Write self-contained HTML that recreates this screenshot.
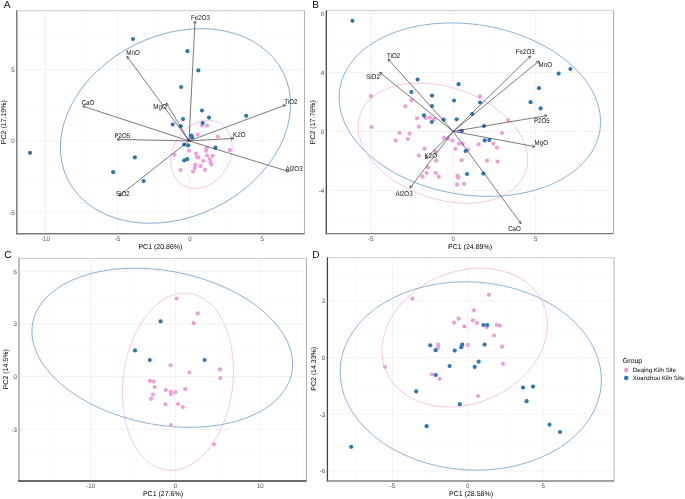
<!DOCTYPE html>
<html><head><meta charset="utf-8"><style>html,body{margin:0;padding:0;background:#fff;width:685px;height:499px;overflow:hidden;}body{position:relative;font-family:"Liberation Sans",sans-serif;}</style></head><body>
<svg width="685" height="499" viewBox="0 0 685 499" style="position:absolute;left:0;top:0;will-change:transform" font-family='"Liberation Sans", sans-serif' text-rendering="geometricPrecision">
<defs><clipPath id="cA"><rect x="16.8" y="10.7" width="287.7" height="223.1"/></clipPath><clipPath id="cB"><rect x="326.3" y="10.6" width="287.2" height="223"/></clipPath><clipPath id="cC"><rect x="19" y="258.4" width="287.5" height="222.6"/></clipPath><clipPath id="cD"><rect x="327.4" y="257.7" width="286.7" height="223.3"/></clipPath></defs>
<rect width="685" height="499" fill="#fff"/>
<line x1="81.6" y1="10.7" x2="81.6" y2="233.8" stroke="#f6f6f6" stroke-width="0.5"/>
<line x1="153.8" y1="10.7" x2="153.8" y2="233.8" stroke="#f6f6f6" stroke-width="0.5"/>
<line x1="226" y1="10.7" x2="226" y2="233.8" stroke="#f6f6f6" stroke-width="0.5"/>
<line x1="298.2" y1="10.7" x2="298.2" y2="233.8" stroke="#f6f6f6" stroke-width="0.5"/>
<line x1="16.8" y1="176.6" x2="304.5" y2="176.6" stroke="#f6f6f6" stroke-width="0.5"/>
<line x1="16.8" y1="105.2" x2="304.5" y2="105.2" stroke="#f6f6f6" stroke-width="0.5"/>
<line x1="16.8" y1="33.8" x2="304.5" y2="33.8" stroke="#f6f6f6" stroke-width="0.5"/>
<line x1="45.5" y1="10.7" x2="45.5" y2="233.8" stroke="#ebebeb" stroke-width="0.6"/>
<line x1="117.7" y1="10.7" x2="117.7" y2="233.8" stroke="#ebebeb" stroke-width="0.6"/>
<line x1="189.9" y1="10.7" x2="189.9" y2="233.8" stroke="#ebebeb" stroke-width="0.6"/>
<line x1="262.1" y1="10.7" x2="262.1" y2="233.8" stroke="#ebebeb" stroke-width="0.6"/>
<line x1="16.8" y1="212.3" x2="304.5" y2="212.3" stroke="#ebebeb" stroke-width="0.6"/>
<line x1="16.8" y1="140.9" x2="304.5" y2="140.9" stroke="#ebebeb" stroke-width="0.6"/>
<line x1="16.8" y1="69.5" x2="304.5" y2="69.5" stroke="#ebebeb" stroke-width="0.6"/>
<g clip-path="url(#cA)"><ellipse cx="175.47" cy="125.96" rx="90.79" ry="120.3" transform="rotate(63.7 175.47 125.96)" fill="none" stroke="#3A7BBB" stroke-width="0.55"/><ellipse cx="201.51" cy="154.3" rx="28.57" ry="36.14" transform="rotate(-148.37 201.51 154.3)" fill="none" stroke="#F0A2DC" stroke-width="0.55"/>
<circle cx="202.1" cy="125.4" r="2.1" fill="#EE9FDA"/>
<circle cx="207" cy="125.7" r="2.1" fill="#EE9FDA"/>
<circle cx="197.5" cy="134.6" r="2.1" fill="#EE9FDA"/>
<circle cx="217.8" cy="136.5" r="2.1" fill="#EE9FDA"/>
<circle cx="229.7" cy="150.2" r="2.1" fill="#EE9FDA"/>
<circle cx="189" cy="150.6" r="2.1" fill="#EE9FDA"/>
<circle cx="206.6" cy="148.2" r="2.1" fill="#EE9FDA"/>
<circle cx="206" cy="151" r="2.1" fill="#EE9FDA"/>
<circle cx="174.6" cy="154.8" r="2.1" fill="#EE9FDA"/>
<circle cx="196" cy="153.5" r="2.1" fill="#EE9FDA"/>
<circle cx="196.8" cy="156.8" r="2.1" fill="#EE9FDA"/>
<circle cx="198.5" cy="157.5" r="2.1" fill="#EE9FDA"/>
<circle cx="207" cy="155.5" r="2.1" fill="#EE9FDA"/>
<circle cx="212.7" cy="155.8" r="2.1" fill="#EE9FDA"/>
<circle cx="209.7" cy="159" r="2.1" fill="#EE9FDA"/>
<circle cx="203.4" cy="161" r="2.1" fill="#EE9FDA"/>
<circle cx="210.6" cy="162.2" r="2.1" fill="#EE9FDA"/>
<circle cx="211.2" cy="164.6" r="2.1" fill="#EE9FDA"/>
<circle cx="195.3" cy="164.6" r="2.1" fill="#EE9FDA"/>
<circle cx="200.5" cy="165.9" r="2.1" fill="#EE9FDA"/>
<circle cx="194.8" cy="168" r="2.1" fill="#EE9FDA"/>
<circle cx="180.6" cy="170.1" r="2.1" fill="#EE9FDA"/>
<circle cx="205" cy="169.8" r="2.1" fill="#EE9FDA"/>
<circle cx="193" cy="171.6" r="2.1" fill="#EE9FDA"/>
<circle cx="189.2" cy="139.6" r="2.1" fill="#EE9FDA"/>
<circle cx="133" cy="39" r="2.1" fill="#3276B3"/>
<circle cx="187.4" cy="51.2" r="2.1" fill="#3276B3"/>
<circle cx="198.4" cy="70.4" r="2.1" fill="#3276B3"/>
<circle cx="181.2" cy="87" r="2.1" fill="#3276B3"/>
<circle cx="202" cy="110.5" r="2.1" fill="#3276B3"/>
<circle cx="209" cy="117.6" r="2.1" fill="#3276B3"/>
<circle cx="246.2" cy="115.8" r="2.1" fill="#3276B3"/>
<circle cx="183" cy="119.1" r="2.1" fill="#3276B3"/>
<circle cx="172.7" cy="124.5" r="2.1" fill="#3276B3"/>
<circle cx="180.8" cy="126.1" r="2.1" fill="#3276B3"/>
<circle cx="202.7" cy="123" r="2.1" fill="#3276B3"/>
<circle cx="191.4" cy="135.5" r="2.1" fill="#3276B3"/>
<circle cx="192.2" cy="137.4" r="2.1" fill="#3276B3"/>
<circle cx="184.2" cy="144.5" r="2.1" fill="#3276B3"/>
<circle cx="188.2" cy="145.4" r="2.1" fill="#3276B3"/>
<circle cx="215.5" cy="147.7" r="2.1" fill="#3276B3"/>
<circle cx="184.2" cy="160.4" r="2.1" fill="#3276B3"/>
<circle cx="187.1" cy="159.2" r="2.1" fill="#3276B3"/>
<circle cx="30" cy="152.8" r="2.1" fill="#3276B3"/>
<circle cx="134.8" cy="157.4" r="2.1" fill="#3276B3"/>
<circle cx="113.2" cy="172.2" r="2.1" fill="#3276B3"/>
<circle cx="143.6" cy="181.1" r="2.1" fill="#3276B3"/>
<line x1="189" y1="140.9" x2="195" y2="21" stroke="#222" stroke-width="0.6"/>
<polyline points="193.46,23.58 195,21 196.27,23.72" fill="none" stroke="#222" stroke-width="0.6"/>
<text transform="translate(200.5 19.5) scale(0.885 1)" font-size="7.0" text-anchor="middle" fill="#111">Fe2O3</text>
<line x1="189" y1="140.9" x2="127" y2="56.4" stroke="#222" stroke-width="0.6"/>
<polyline points="127.43,59.37 127,56.4 129.7,57.7" fill="none" stroke="#222" stroke-width="0.6"/>
<text transform="translate(133 55.1) scale(0.885 1)" font-size="7.0" text-anchor="middle" fill="#111">MnO</text>
<line x1="189" y1="140.9" x2="82.8" y2="106.2" stroke="#222" stroke-width="0.6"/>
<polyline points="84.88,108.36 82.8,106.2 85.76,105.68" fill="none" stroke="#222" stroke-width="0.6"/>
<text transform="translate(88 104.5) scale(0.885 1)" font-size="7.0" text-anchor="middle" fill="#111">CaO</text>
<line x1="189" y1="140.9" x2="166.2" y2="103" stroke="#222" stroke-width="0.6"/>
<polyline points="166.36,106 166.2,103 168.77,104.54" fill="none" stroke="#222" stroke-width="0.6"/>
<text transform="translate(160 109.1) scale(0.885 1)" font-size="7.0" text-anchor="middle" fill="#111">MgO</text>
<line x1="189" y1="140.9" x2="117" y2="139.4" stroke="#222" stroke-width="0.6"/>
<polyline points="119.62,140.86 117,139.4 119.68,138.05" fill="none" stroke="#222" stroke-width="0.6"/>
<text transform="translate(122.4 137.5) scale(0.885 1)" font-size="7.0" text-anchor="middle" fill="#111">P2O5</text>
<line x1="189" y1="140.9" x2="119" y2="196" stroke="#222" stroke-width="0.6"/>
<polyline points="121.95,195.47 119,196 120.21,193.25" fill="none" stroke="#222" stroke-width="0.6"/>
<text transform="translate(122.8 196) scale(0.885 1)" font-size="7.0" text-anchor="middle" fill="#111">SiO2</text>
<line x1="189" y1="140.9" x2="285.6" y2="105" stroke="#222" stroke-width="0.6"/>
<polyline points="282.63,104.6 285.6,105 283.61,107.24" fill="none" stroke="#222" stroke-width="0.6"/>
<text transform="translate(290.8 103.9) scale(0.885 1)" font-size="7.0" text-anchor="middle" fill="#111">TiO2</text>
<line x1="189" y1="140.9" x2="233.6" y2="138.4" stroke="#222" stroke-width="0.6"/>
<polyline points="230.88,137.14 233.6,138.4 231.03,139.95" fill="none" stroke="#222" stroke-width="0.6"/>
<text transform="translate(239.3 136.9) scale(0.885 1)" font-size="7.0" text-anchor="middle" fill="#111">K2O</text>
<line x1="189" y1="140.9" x2="289" y2="171.6" stroke="#222" stroke-width="0.6"/>
<polyline points="286.88,169.48 289,171.6 286.05,172.17" fill="none" stroke="#222" stroke-width="0.6"/>
<text transform="translate(294 170.9) scale(0.885 1)" font-size="7.0" text-anchor="middle" fill="#111">Al2O3</text>
</g>
<line x1="16.8" y1="10.7" x2="304.5" y2="10.7" stroke="#c4c4c4" stroke-width="0.9"/>
<line x1="304.5" y1="10.7" x2="304.5" y2="233.8" stroke="#a8a8a8" stroke-width="0.9"/>
<line x1="16.8" y1="10.3" x2="16.8" y2="234.4" stroke="#6a6a6a" stroke-width="1.3"/>
<line x1="16.2" y1="233.8" x2="304.5" y2="233.8" stroke="#7a7a7a" stroke-width="1.4"/>
<text transform="translate(45.5 240.8) scale(0.93 1)" font-size="6.6" text-anchor="middle" fill="#4d4d4d">-10</text>
<text transform="translate(117.7 240.8) scale(0.93 1)" font-size="6.6" text-anchor="middle" fill="#4d4d4d">-5</text>
<text transform="translate(189.9 240.8) scale(0.93 1)" font-size="6.6" text-anchor="middle" fill="#4d4d4d">0</text>
<text transform="translate(262.1 240.8) scale(0.93 1)" font-size="6.6" text-anchor="middle" fill="#4d4d4d">5</text>
<text transform="translate(14.6 214.6) scale(0.93 1)" font-size="6.6" text-anchor="end" fill="#4d4d4d">-5</text>
<text transform="translate(14.6 143.2) scale(0.93 1)" font-size="6.6" text-anchor="end" fill="#4d4d4d">0</text>
<text transform="translate(14.6 71.8) scale(0.93 1)" font-size="6.6" text-anchor="end" fill="#4d4d4d">5</text>
<line x1="329.45" y1="10.6" x2="329.45" y2="233.6" stroke="#f6f6f6" stroke-width="0.5"/>
<line x1="411.95" y1="10.6" x2="411.95" y2="233.6" stroke="#f6f6f6" stroke-width="0.5"/>
<line x1="494.45" y1="10.6" x2="494.45" y2="233.6" stroke="#f6f6f6" stroke-width="0.5"/>
<line x1="576.95" y1="10.6" x2="576.95" y2="233.6" stroke="#f6f6f6" stroke-width="0.5"/>
<line x1="326.3" y1="220" x2="613.5" y2="220" stroke="#f6f6f6" stroke-width="0.5"/>
<line x1="326.3" y1="161" x2="613.5" y2="161" stroke="#f6f6f6" stroke-width="0.5"/>
<line x1="326.3" y1="102" x2="613.5" y2="102" stroke="#f6f6f6" stroke-width="0.5"/>
<line x1="326.3" y1="43" x2="613.5" y2="43" stroke="#f6f6f6" stroke-width="0.5"/>
<line x1="370.7" y1="10.6" x2="370.7" y2="233.6" stroke="#ebebeb" stroke-width="0.6"/>
<line x1="453.2" y1="10.6" x2="453.2" y2="233.6" stroke="#ebebeb" stroke-width="0.6"/>
<line x1="535.7" y1="10.6" x2="535.7" y2="233.6" stroke="#ebebeb" stroke-width="0.6"/>
<line x1="326.3" y1="190.5" x2="613.5" y2="190.5" stroke="#ebebeb" stroke-width="0.6"/>
<line x1="326.3" y1="131.5" x2="613.5" y2="131.5" stroke="#ebebeb" stroke-width="0.6"/>
<line x1="326.3" y1="72.5" x2="613.5" y2="72.5" stroke="#ebebeb" stroke-width="0.6"/>
<line x1="326.3" y1="13.5" x2="613.5" y2="13.5" stroke="#ebebeb" stroke-width="0.6"/>
<g clip-path="url(#cB)"><ellipse cx="469.83" cy="109.64" rx="85.28" ry="131.77" transform="rotate(99.19 469.83 109.64)" fill="none" stroke="#3A7BBB" stroke-width="0.55"/><ellipse cx="442.94" cy="143.16" rx="87.68" ry="55.84" transform="rotate(-160.83 442.94 143.16)" fill="none" stroke="#F0A2DC" stroke-width="0.55"/>
<circle cx="371" cy="96.2" r="2.1" fill="#EE9FDA"/>
<circle cx="371.4" cy="127" r="2.1" fill="#EE9FDA"/>
<circle cx="411.4" cy="100.4" r="2.1" fill="#EE9FDA"/>
<circle cx="405.4" cy="106.3" r="2.1" fill="#EE9FDA"/>
<circle cx="480" cy="96.3" r="2.1" fill="#EE9FDA"/>
<circle cx="417" cy="118.3" r="2.1" fill="#EE9FDA"/>
<circle cx="425.5" cy="118" r="2.1" fill="#EE9FDA"/>
<circle cx="429.8" cy="117.5" r="2.1" fill="#EE9FDA"/>
<circle cx="434.3" cy="119.2" r="2.1" fill="#EE9FDA"/>
<circle cx="418.8" cy="126.7" r="2.1" fill="#EE9FDA"/>
<circle cx="399.5" cy="132.8" r="2.1" fill="#EE9FDA"/>
<circle cx="409.5" cy="133.7" r="2.1" fill="#EE9FDA"/>
<circle cx="395.6" cy="140.6" r="2.1" fill="#EE9FDA"/>
<circle cx="407.8" cy="139" r="2.1" fill="#EE9FDA"/>
<circle cx="444" cy="137.7" r="2.1" fill="#EE9FDA"/>
<circle cx="448" cy="138.7" r="2.1" fill="#EE9FDA"/>
<circle cx="452.5" cy="140.5" r="2.1" fill="#EE9FDA"/>
<circle cx="458.9" cy="143.6" r="2.1" fill="#EE9FDA"/>
<circle cx="462.7" cy="143.6" r="2.1" fill="#EE9FDA"/>
<circle cx="459" cy="131" r="2.1" fill="#EE9FDA"/>
<circle cx="455.5" cy="148.8" r="2.1" fill="#EE9FDA"/>
<circle cx="424.7" cy="148.7" r="2.1" fill="#EE9FDA"/>
<circle cx="418.8" cy="155.6" r="2.1" fill="#EE9FDA"/>
<circle cx="435.3" cy="151.4" r="2.1" fill="#EE9FDA"/>
<circle cx="436.1" cy="160.7" r="2.1" fill="#EE9FDA"/>
<circle cx="428" cy="167.4" r="2.1" fill="#EE9FDA"/>
<circle cx="426.6" cy="172.9" r="2.1" fill="#EE9FDA"/>
<circle cx="422.4" cy="176.7" r="2.1" fill="#EE9FDA"/>
<circle cx="435.7" cy="173" r="2.1" fill="#EE9FDA"/>
<circle cx="438.8" cy="176.7" r="2.1" fill="#EE9FDA"/>
<circle cx="457.7" cy="175.7" r="2.1" fill="#EE9FDA"/>
<circle cx="458.2" cy="177.7" r="2.1" fill="#EE9FDA"/>
<circle cx="457" cy="184.7" r="2.1" fill="#EE9FDA"/>
<circle cx="461.7" cy="160.2" r="2.1" fill="#EE9FDA"/>
<circle cx="464" cy="183.9" r="2.1" fill="#EE9FDA"/>
<circle cx="468" cy="149.5" r="2.1" fill="#EE9FDA"/>
<circle cx="478.5" cy="144.4" r="2.1" fill="#EE9FDA"/>
<circle cx="493.4" cy="143.6" r="2.1" fill="#EE9FDA"/>
<circle cx="497" cy="147.6" r="2.1" fill="#EE9FDA"/>
<circle cx="487" cy="160.6" r="2.1" fill="#EE9FDA"/>
<circle cx="497.6" cy="161.6" r="2.1" fill="#EE9FDA"/>
<circle cx="502" cy="133" r="2.1" fill="#EE9FDA"/>
<circle cx="508" cy="120" r="2.1" fill="#EE9FDA"/>
<circle cx="352.4" cy="20.8" r="2.1" fill="#3276B3"/>
<circle cx="417.6" cy="79.6" r="2.1" fill="#3276B3"/>
<circle cx="411.4" cy="92" r="2.1" fill="#3276B3"/>
<circle cx="432" cy="95.6" r="2.1" fill="#3276B3"/>
<circle cx="458.6" cy="84.2" r="2.1" fill="#3276B3"/>
<circle cx="454" cy="100.5" r="2.1" fill="#3276B3"/>
<circle cx="432" cy="106" r="2.1" fill="#3276B3"/>
<circle cx="480" cy="102.5" r="2.1" fill="#3276B3"/>
<circle cx="530.6" cy="102.2" r="2.1" fill="#3276B3"/>
<circle cx="539" cy="88.2" r="2.1" fill="#3276B3"/>
<circle cx="558.6" cy="73.6" r="2.1" fill="#3276B3"/>
<circle cx="570.4" cy="69" r="2.1" fill="#3276B3"/>
<circle cx="540.6" cy="108.4" r="2.1" fill="#3276B3"/>
<circle cx="424" cy="115.4" r="2.1" fill="#3276B3"/>
<circle cx="431.8" cy="122" r="2.1" fill="#3276B3"/>
<circle cx="443.7" cy="119.7" r="2.1" fill="#3276B3"/>
<circle cx="456.7" cy="119.3" r="2.1" fill="#3276B3"/>
<circle cx="472.4" cy="114" r="2.1" fill="#3276B3"/>
<circle cx="484" cy="126" r="2.1" fill="#3276B3"/>
<circle cx="461.8" cy="130.9" r="2.1" fill="#3276B3"/>
<circle cx="484.7" cy="140.4" r="2.1" fill="#3276B3"/>
<circle cx="489.3" cy="140" r="2.1" fill="#3276B3"/>
<circle cx="465.6" cy="151" r="2.1" fill="#3276B3"/>
<circle cx="467" cy="174" r="2.1" fill="#3276B3"/>
<circle cx="483.4" cy="173.6" r="2.1" fill="#3276B3"/>
<line x1="453.2" y1="131.4" x2="388" y2="59" stroke="#222" stroke-width="0.6"/>
<polyline points="388.73,61.91 388,59 390.82,60.03" fill="none" stroke="#222" stroke-width="0.6"/>
<text transform="translate(393.7 57.5) scale(0.885 1)" font-size="7.0" text-anchor="middle" fill="#111">TiO2</text>
<line x1="453.2" y1="131.4" x2="379.6" y2="72.4" stroke="#222" stroke-width="0.6"/>
<polyline points="380.79,75.16 379.6,72.4 382.55,72.96" fill="none" stroke="#222" stroke-width="0.6"/>
<text transform="translate(373 78.5) scale(0.885 1)" font-size="7.0" text-anchor="middle" fill="#111">SiO2</text>
<line x1="453.2" y1="131.4" x2="530.6" y2="56" stroke="#222" stroke-width="0.6"/>
<polyline points="527.72,56.84 530.6,56 529.69,58.86" fill="none" stroke="#222" stroke-width="0.6"/>
<text transform="translate(525.3 53.9) scale(0.885 1)" font-size="7.0" text-anchor="middle" fill="#111">Fe2O3</text>
<line x1="453.2" y1="131.4" x2="539" y2="61" stroke="#222" stroke-width="0.6"/>
<polyline points="536.06,61.59 539,61 537.85,63.77" fill="none" stroke="#222" stroke-width="0.6"/>
<text transform="translate(545.3 67.1) scale(0.885 1)" font-size="7.0" text-anchor="middle" fill="#111">MnO</text>
<line x1="453.2" y1="131.4" x2="547" y2="115.6" stroke="#222" stroke-width="0.6"/>
<polyline points="544.15,114.65 547,115.6 544.62,117.43" fill="none" stroke="#222" stroke-width="0.6"/>
<text transform="translate(541.8 122.9) scale(0.885 1)" font-size="7.0" text-anchor="middle" fill="#111">P2O5</text>
<line x1="453.2" y1="131.4" x2="535" y2="146.6" stroke="#222" stroke-width="0.6"/>
<polyline points="532.65,144.73 535,146.6 532.14,147.5" fill="none" stroke="#222" stroke-width="0.6"/>
<text transform="translate(541.3 145.1) scale(0.885 1)" font-size="7.0" text-anchor="middle" fill="#111">MgO</text>
<line x1="453.2" y1="131.4" x2="521" y2="223.6" stroke="#222" stroke-width="0.6"/>
<polyline points="520.57,220.63 521,223.6 518.3,222.3" fill="none" stroke="#222" stroke-width="0.6"/>
<text transform="translate(514.5 230.5) scale(0.885 1)" font-size="7.0" text-anchor="middle" fill="#111">CaO</text>
<line x1="453.2" y1="131.4" x2="425.5" y2="158.8" stroke="#222" stroke-width="0.6"/>
<polyline points="428.37,157.94 425.5,158.8 426.39,155.94" fill="none" stroke="#222" stroke-width="0.6"/>
<text transform="translate(430.8 158) scale(0.885 1)" font-size="7.0" text-anchor="middle" fill="#111">K2O</text>
<line x1="453.2" y1="131.4" x2="410" y2="188" stroke="#222" stroke-width="0.6"/>
<polyline points="412.73,186.75 410,188 410.49,185.04" fill="none" stroke="#222" stroke-width="0.6"/>
<text transform="translate(404 195.5) scale(0.885 1)" font-size="7.0" text-anchor="middle" fill="#111">Al2O3</text>
</g>
<line x1="326.3" y1="10.6" x2="613.5" y2="10.6" stroke="#c4c4c4" stroke-width="0.9"/>
<line x1="613.5" y1="10.6" x2="613.5" y2="233.6" stroke="#a8a8a8" stroke-width="0.9"/>
<line x1="326.3" y1="10.2" x2="326.3" y2="234.2" stroke="#444" stroke-width="1.3"/>
<line x1="325.7" y1="233.6" x2="613.5" y2="233.6" stroke="#777" stroke-width="1.4"/>
<text transform="translate(370.7 240.6) scale(0.93 1)" font-size="6.6" text-anchor="middle" fill="#4d4d4d">-5</text>
<text transform="translate(453.2 240.6) scale(0.93 1)" font-size="6.6" text-anchor="middle" fill="#4d4d4d">0</text>
<text transform="translate(535.7 240.6) scale(0.93 1)" font-size="6.6" text-anchor="middle" fill="#4d4d4d">5</text>
<text transform="translate(324.1 192.8) scale(0.93 1)" font-size="6.6" text-anchor="end" fill="#4d4d4d">-4</text>
<text transform="translate(324.1 133.8) scale(0.93 1)" font-size="6.6" text-anchor="end" fill="#4d4d4d">0</text>
<text transform="translate(324.1 74.8) scale(0.93 1)" font-size="6.6" text-anchor="end" fill="#4d4d4d">4</text>
<text transform="translate(324.1 15.8) scale(0.93 1)" font-size="6.6" text-anchor="end" fill="#4d4d4d">8</text>
<line x1="48.3" y1="258.4" x2="48.3" y2="481" stroke="#f6f6f6" stroke-width="0.5"/>
<line x1="133.1" y1="258.4" x2="133.1" y2="481" stroke="#f6f6f6" stroke-width="0.5"/>
<line x1="217.9" y1="258.4" x2="217.9" y2="481" stroke="#f6f6f6" stroke-width="0.5"/>
<line x1="302.7" y1="258.4" x2="302.7" y2="481" stroke="#f6f6f6" stroke-width="0.5"/>
<line x1="19" y1="455.58" x2="306.5" y2="455.58" stroke="#f6f6f6" stroke-width="0.5"/>
<line x1="19" y1="402.93" x2="306.5" y2="402.93" stroke="#f6f6f6" stroke-width="0.5"/>
<line x1="19" y1="350.28" x2="306.5" y2="350.28" stroke="#f6f6f6" stroke-width="0.5"/>
<line x1="19" y1="297.62" x2="306.5" y2="297.62" stroke="#f6f6f6" stroke-width="0.5"/>
<line x1="90.7" y1="258.4" x2="90.7" y2="481" stroke="#ebebeb" stroke-width="0.6"/>
<line x1="175.5" y1="258.4" x2="175.5" y2="481" stroke="#ebebeb" stroke-width="0.6"/>
<line x1="260.3" y1="258.4" x2="260.3" y2="481" stroke="#ebebeb" stroke-width="0.6"/>
<line x1="19" y1="429.25" x2="306.5" y2="429.25" stroke="#ebebeb" stroke-width="0.6"/>
<line x1="19" y1="376.6" x2="306.5" y2="376.6" stroke="#ebebeb" stroke-width="0.6"/>
<line x1="19" y1="323.95" x2="306.5" y2="323.95" stroke="#ebebeb" stroke-width="0.6"/>
<line x1="19" y1="271.3" x2="306.5" y2="271.3" stroke="#ebebeb" stroke-width="0.6"/>
<g clip-path="url(#cC)"><ellipse cx="162.26" cy="347.78" rx="132" ry="76.93" transform="rotate(-169.03 162.26 347.78)" fill="none" stroke="#3A7BBB" stroke-width="0.55"/><ellipse cx="177.9" cy="381.77" rx="89.13" ry="54.9" transform="rotate(-82.77 177.9 381.77)" fill="none" stroke="#F0A2DC" stroke-width="0.55"/>
<circle cx="176.6" cy="298.6" r="2.1" fill="#EE9FDA"/>
<circle cx="197.8" cy="313.4" r="2.1" fill="#EE9FDA"/>
<circle cx="193.6" cy="323.2" r="2.1" fill="#EE9FDA"/>
<circle cx="170.5" cy="365.3" r="2.1" fill="#EE9FDA"/>
<circle cx="189.5" cy="372.5" r="2.1" fill="#EE9FDA"/>
<circle cx="220" cy="369.4" r="2.1" fill="#EE9FDA"/>
<circle cx="220.4" cy="378.2" r="2.1" fill="#EE9FDA"/>
<circle cx="150" cy="380.8" r="2.1" fill="#EE9FDA"/>
<circle cx="153.8" cy="381.6" r="2.1" fill="#EE9FDA"/>
<circle cx="154.6" cy="387" r="2.1" fill="#EE9FDA"/>
<circle cx="165.7" cy="390" r="2.1" fill="#EE9FDA"/>
<circle cx="170.8" cy="391.8" r="2.1" fill="#EE9FDA"/>
<circle cx="170.8" cy="394" r="2.1" fill="#EE9FDA"/>
<circle cx="175.3" cy="392.2" r="2.1" fill="#EE9FDA"/>
<circle cx="185.3" cy="389.2" r="2.1" fill="#EE9FDA"/>
<circle cx="153" cy="394.7" r="2.1" fill="#EE9FDA"/>
<circle cx="151.1" cy="398.8" r="2.1" fill="#EE9FDA"/>
<circle cx="165.5" cy="404.3" r="2.1" fill="#EE9FDA"/>
<circle cx="178" cy="404" r="2.1" fill="#EE9FDA"/>
<circle cx="182.8" cy="407" r="2.1" fill="#EE9FDA"/>
<circle cx="171" cy="425" r="2.1" fill="#EE9FDA"/>
<circle cx="214" cy="444.3" r="2.1" fill="#EE9FDA"/>
<circle cx="135" cy="350.4" r="2.1" fill="#3276B3"/>
<circle cx="149.8" cy="360" r="2.1" fill="#3276B3"/>
<circle cx="160.6" cy="321.4" r="2.1" fill="#3276B3"/>
<circle cx="204.6" cy="360" r="2.1" fill="#3276B3"/>
</g>
<line x1="19" y1="258.4" x2="306.5" y2="258.4" stroke="#c4c4c4" stroke-width="0.9"/>
<line x1="306.5" y1="258.4" x2="306.5" y2="481" stroke="#a8a8a8" stroke-width="0.9"/>
<line x1="19" y1="258" x2="19" y2="481.6" stroke="#999" stroke-width="1.3"/>
<line x1="18.4" y1="481" x2="306.5" y2="481" stroke="#383838" stroke-width="1.4"/>
<text transform="translate(90.7 488) scale(0.93 1)" font-size="6.6" text-anchor="middle" fill="#4d4d4d">-10</text>
<text transform="translate(175.5 488) scale(0.93 1)" font-size="6.6" text-anchor="middle" fill="#4d4d4d">0</text>
<text transform="translate(260.3 488) scale(0.93 1)" font-size="6.6" text-anchor="middle" fill="#4d4d4d">10</text>
<text transform="translate(16.8 431.55) scale(0.93 1)" font-size="6.6" text-anchor="end" fill="#4d4d4d">-3</text>
<text transform="translate(16.8 378.9) scale(0.93 1)" font-size="6.6" text-anchor="end" fill="#4d4d4d">0</text>
<text transform="translate(16.8 326.25) scale(0.93 1)" font-size="6.6" text-anchor="end" fill="#4d4d4d">3</text>
<text transform="translate(16.8 273.6) scale(0.93 1)" font-size="6.6" text-anchor="end" fill="#4d4d4d">6</text>
<line x1="354.85" y1="257.7" x2="354.85" y2="481" stroke="#f6f6f6" stroke-width="0.5"/>
<line x1="430.15" y1="257.7" x2="430.15" y2="481" stroke="#f6f6f6" stroke-width="0.5"/>
<line x1="505.45" y1="257.7" x2="505.45" y2="481" stroke="#f6f6f6" stroke-width="0.5"/>
<line x1="580.75" y1="257.7" x2="580.75" y2="481" stroke="#f6f6f6" stroke-width="0.5"/>
<line x1="327.4" y1="442.64" x2="614.1" y2="442.64" stroke="#f6f6f6" stroke-width="0.5"/>
<line x1="327.4" y1="385.88" x2="614.1" y2="385.88" stroke="#f6f6f6" stroke-width="0.5"/>
<line x1="327.4" y1="329.12" x2="614.1" y2="329.12" stroke="#f6f6f6" stroke-width="0.5"/>
<line x1="327.4" y1="272.36" x2="614.1" y2="272.36" stroke="#f6f6f6" stroke-width="0.5"/>
<line x1="392.5" y1="257.7" x2="392.5" y2="481" stroke="#ebebeb" stroke-width="0.6"/>
<line x1="467.8" y1="257.7" x2="467.8" y2="481" stroke="#ebebeb" stroke-width="0.6"/>
<line x1="543.1" y1="257.7" x2="543.1" y2="481" stroke="#ebebeb" stroke-width="0.6"/>
<line x1="327.4" y1="471.02" x2="614.1" y2="471.02" stroke="#ebebeb" stroke-width="0.6"/>
<line x1="327.4" y1="414.26" x2="614.1" y2="414.26" stroke="#ebebeb" stroke-width="0.6"/>
<line x1="327.4" y1="357.5" x2="614.1" y2="357.5" stroke="#ebebeb" stroke-width="0.6"/>
<line x1="327.4" y1="300.74" x2="614.1" y2="300.74" stroke="#ebebeb" stroke-width="0.6"/>
<g clip-path="url(#cD)"><ellipse cx="470.76" cy="375.95" rx="94.03" ry="130.79" transform="rotate(93.67 470.76 375.95)" fill="none" stroke="#3A7BBB" stroke-width="0.55"/><ellipse cx="464.67" cy="337.65" rx="65.95" ry="85.58" transform="rotate(66.71 464.67 337.65)" fill="none" stroke="#F0A2DC" stroke-width="0.55"/>
<circle cx="412.4" cy="298.6" r="2.1" fill="#EE9FDA"/>
<circle cx="488.9" cy="294.8" r="2.1" fill="#EE9FDA"/>
<circle cx="474" cy="310.3" r="2.1" fill="#EE9FDA"/>
<circle cx="458.6" cy="318.6" r="2.1" fill="#EE9FDA"/>
<circle cx="454" cy="322.7" r="2.1" fill="#EE9FDA"/>
<circle cx="472.9" cy="320.4" r="2.1" fill="#EE9FDA"/>
<circle cx="477" cy="323.1" r="2.1" fill="#EE9FDA"/>
<circle cx="464.3" cy="326.4" r="2.1" fill="#EE9FDA"/>
<circle cx="486.7" cy="327.1" r="2.1" fill="#EE9FDA"/>
<circle cx="496.9" cy="324.9" r="2.1" fill="#EE9FDA"/>
<circle cx="500" cy="325.6" r="2.1" fill="#EE9FDA"/>
<circle cx="494.1" cy="335.5" r="2.1" fill="#EE9FDA"/>
<circle cx="438.1" cy="344.7" r="2.1" fill="#EE9FDA"/>
<circle cx="438" cy="347.8" r="2.1" fill="#EE9FDA"/>
<circle cx="467.9" cy="344.9" r="2.1" fill="#EE9FDA"/>
<circle cx="502" cy="346.7" r="2.1" fill="#EE9FDA"/>
<circle cx="502.9" cy="363.8" r="2.1" fill="#EE9FDA"/>
<circle cx="432" cy="374.5" r="2.1" fill="#EE9FDA"/>
<circle cx="439.7" cy="378.8" r="2.1" fill="#EE9FDA"/>
<circle cx="478" cy="396" r="2.1" fill="#EE9FDA"/>
<circle cx="385" cy="367" r="2.1" fill="#EE9FDA"/>
<circle cx="430.2" cy="345.3" r="2.1" fill="#3276B3"/>
<circle cx="435.6" cy="350.2" r="2.1" fill="#3276B3"/>
<circle cx="454.7" cy="350.6" r="2.1" fill="#3276B3"/>
<circle cx="462.3" cy="344.5" r="2.1" fill="#3276B3"/>
<circle cx="461.3" cy="347.2" r="2.1" fill="#3276B3"/>
<circle cx="483.4" cy="325" r="2.1" fill="#3276B3"/>
<circle cx="487.3" cy="325" r="2.1" fill="#3276B3"/>
<circle cx="484.6" cy="344.6" r="2.1" fill="#3276B3"/>
<circle cx="449.6" cy="366" r="2.1" fill="#3276B3"/>
<circle cx="474.7" cy="366.9" r="2.1" fill="#3276B3"/>
<circle cx="478.7" cy="361.7" r="2.1" fill="#3276B3"/>
<circle cx="435.8" cy="375" r="2.1" fill="#3276B3"/>
<circle cx="416.2" cy="391.4" r="2.1" fill="#3276B3"/>
<circle cx="459.8" cy="404.2" r="2.1" fill="#3276B3"/>
<circle cx="426.6" cy="426.2" r="2.1" fill="#3276B3"/>
<circle cx="351.2" cy="446.8" r="2.1" fill="#3276B3"/>
<circle cx="523" cy="387.6" r="2.1" fill="#3276B3"/>
<circle cx="533" cy="386.6" r="2.1" fill="#3276B3"/>
<circle cx="526.6" cy="401.2" r="2.1" fill="#3276B3"/>
<circle cx="549.5" cy="424.7" r="2.1" fill="#3276B3"/>
<circle cx="560" cy="432" r="2.1" fill="#3276B3"/>
</g>
<line x1="327.4" y1="257.7" x2="614.1" y2="257.7" stroke="#c4c4c4" stroke-width="0.9"/>
<line x1="614.1" y1="257.7" x2="614.1" y2="481" stroke="#a8a8a8" stroke-width="0.9"/>
<line x1="327.4" y1="257.3" x2="327.4" y2="481.6" stroke="#444" stroke-width="1.3"/>
<line x1="326.8" y1="481" x2="614.1" y2="481" stroke="#808080" stroke-width="1.4"/>
<text transform="translate(392.5 488) scale(0.93 1)" font-size="6.6" text-anchor="middle" fill="#4d4d4d">-5</text>
<text transform="translate(467.8 488) scale(0.93 1)" font-size="6.6" text-anchor="middle" fill="#4d4d4d">0</text>
<text transform="translate(543.1 488) scale(0.93 1)" font-size="6.6" text-anchor="middle" fill="#4d4d4d">5</text>
<text transform="translate(325.2 473.32) scale(0.93 1)" font-size="6.6" text-anchor="end" fill="#4d4d4d">-6</text>
<text transform="translate(325.2 416.56) scale(0.93 1)" font-size="6.6" text-anchor="end" fill="#4d4d4d">-3</text>
<text transform="translate(325.2 359.8) scale(0.93 1)" font-size="6.6" text-anchor="end" fill="#4d4d4d">0</text>
<text transform="translate(325.2 303.04) scale(0.93 1)" font-size="6.6" text-anchor="end" fill="#4d4d4d">3</text>
<text x="160.4" y="249.2" font-size="7" text-anchor="middle" fill="#000">PC1 (20.86%)</text>
<text x="5.9" y="122.2" font-size="7" text-anchor="middle" fill="#000" transform="rotate(-90 5.9 122.2)">PC2 (17.19%)</text>
<text x="470" y="249.2" font-size="7" text-anchor="middle" fill="#000">PC1 (24.89%)</text>
<text x="315.2" y="122.2" font-size="7" text-anchor="middle" fill="#000" transform="rotate(-90 315.2 122.2)">PC2 (17.76%)</text>
<text x="163" y="496.4" font-size="7" text-anchor="middle" fill="#000">PC1 (27.6%)</text>
<text x="8.4" y="369.3" font-size="7" text-anchor="middle" fill="#000" transform="rotate(-90 8.4 369.3)">PC2 (14.5%)</text>
<text x="471" y="496.4" font-size="7" text-anchor="middle" fill="#000">PC1 (28.58%)</text>
<text x="316.4" y="368.8" font-size="7" text-anchor="middle" fill="#000" transform="rotate(-90 316.4 368.8)">PC2 (14.33%)</text>
<text x="3.8" y="7.9" font-size="10.2" fill="#111">A</text>
<text x="312.3" y="7.8" font-size="10.2" fill="#111">B</text>
<text x="4.3" y="257.6" font-size="10.2" fill="#111">C</text>
<text x="312.3" y="257.9" font-size="10.2" fill="#111">D</text>
<text x="622.8" y="362.9" font-size="7" fill="#000">Group</text>
<circle cx="626.2" cy="370.1" r="2.3" fill="#EE9FDA"/>
<circle cx="626.2" cy="378" r="2.3" fill="#3276B3"/>
<text x="632.8" y="372.4" font-size="6.1" fill="#000">Deqing Kiln Site</text>
<text x="632.8" y="380.3" font-size="6.1" fill="#000">Xuanzhou Kiln Site</text>
</svg>
</body></html>
